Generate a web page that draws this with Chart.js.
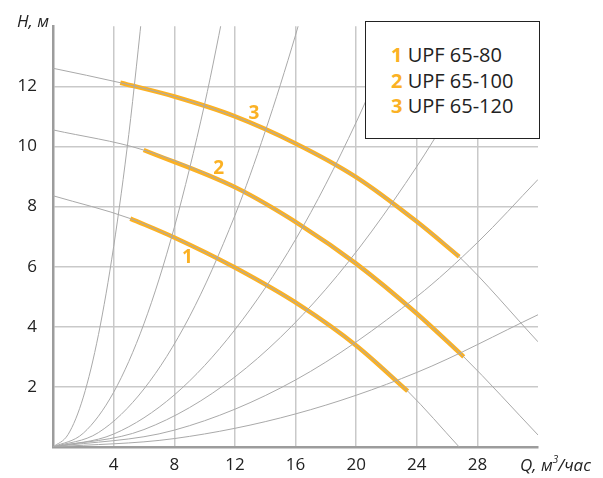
<!DOCTYPE html>
<html>
<head>
<meta charset="utf-8">
<script src="https://cdn.jsdelivr.net/npm/chart.js@4/dist/chart.umd.min.js"></script>
<style>
  body { margin: 0; background: #fff; }
  #wrap { position: relative; width: 603px; height: 478px; }
  .ttl {
    position: absolute;
    font-family: "Open Sans", sans-serif;
    font-style: italic;
    font-size: 17px;
    color: #222;
    white-space: nowrap;
  }
  .ttl sup { font-size: 10px; position: relative; top: -1px; }
  #legend {
    position: absolute;
    left: 365px; top: 21px;
    width: 173px; height: 116px;
    border: 1.5px solid #222;
    background: #fff;
    box-sizing: content-box;
    font-family: "Open Sans", sans-serif;
    font-size: 20px;
    color: #222;
    padding: 0;
  }
  #legend .row { position: absolute; left: 25px; line-height: 26px; white-space: nowrap; }
  #legend .num { color: #fbb124; font-weight: 700; }
</style>
</head>
<body>
<div id="wrap">
  <canvas id="chart" width="603" height="478"></canvas>
  <div class="ttl" style="left:17px; top:9px;">H, м</div>
  <div class="ttl" style="left:520px; top:453px;">Q, м<sup>3</sup>/час</div>
  <div id="legend"></div>
</div>
<script>
const ORANGE = "#fbb124";
const CURVE_GRAY = "#a9a9a9";

// pump curves: Q (m3/h) and H (m), orange part between orangeFrom..orangeTo indexes
const pump1Q = [0, 5.1, 8, 12, 16.4, 20, 23.4, 26.8];
const pump1H = [8.36, 7.6, 6.97, 5.97, 4.68, 3.38, 1.86, 0];
const pump2Q = [0, 5.98, 12.05, 16.4, 20, 24, 27.1, 32];
const pump2H = [10.55, 9.88, 8.63, 7.36, 6.1, 4.44, 3.0, 0.4];
const pump3Q = [0, 4.44, 8, 12, 16, 20, 24, 26.8, 32];
const pump3H = [12.6, 12.12, 11.66, 11.0, 10.1, 8.98, 7.5, 6.33, 3.5];
const pumpOrange = [[1, 6], [1, 6], [1, 7]];

// system curves through the origin
const sysAQ = [0, 1, 2, 3, 4, 5, 6];
const sysAH = [0, 0.42, 1.66, 3.74, 6.66, 10.4, 15];
const sysBQ = [0, 2, 4, 6, 8, 10, 11.5];
const sysBH = [0, 0.46, 1.82, 4.1, 7.3, 11.4, 15.1];
const sysCQ = [0, 3, 6, 9, 12, 14, 16, 17];
const sysCH = [0, 0.48, 1.93, 4.33, 7.7, 10.5, 13.7, 15.5];
const sysDQ = [0, 4, 8, 12, 16, 20, 23];
const sysDH = [0, 0.43, 1.73, 3.9, 6.9, 10.8, 14.3];
const sysEQ = [0, 6, 12, 18, 24, 28, 30];
const sysEH = [0, 0.58, 2.33, 5.25, 9.33, 12.7, 14.6];
const sysFQ = [0, 8, 16, 24, 28, 32];
const sysFH = [0, 0.56, 2.23, 5.0, 6.8, 8.9];
const sysGQ = [0, 8, 16, 24, 32];
const sysGH = [0, 0.28, 1.1, 2.48, 4.4];

const legendNames = ["UPF 65-80", "UPF 65-100", "UPF 65-120"];
const curveLabelQ = [8.87, 10.93, 13.25];
const curveLabelH = [6.3, 9.25, 11.08];

const xTicks = [4, 8, 12, 16, 20, 24, 28];
const yTicks = [2, 4, 6, 8, 10, 12];

function pts(qs, hs) {
  return qs.map((q, i) => ({ x: q, y: hs[i] }));
}

function grayLine(qs, hs) {
  return {
    data: pts(qs, hs),
    borderColor: CURVE_GRAY,
    borderWidth: 1,
    pointRadius: 0,
    showLine: true,
    fill: false,
    cubicInterpolationMode: "monotone",
  };
}

const pumpQ = [pump1Q, pump2Q, pump3Q];
const pumpH = [pump1H, pump2H, pump3H];

const datasets = [
  grayLine(sysAQ, sysAH),
  grayLine(sysBQ, sysBH),
  grayLine(sysCQ, sysCH),
  grayLine(sysDQ, sysDH),
  grayLine(sysEQ, sysEH),
  grayLine(sysFQ, sysFH),
  grayLine(sysGQ, sysGH),
];
pumpQ.forEach((qs, i) => datasets.push(grayLine(qs, pumpH[i])));
pumpQ.forEach((qs, i) => {
  const [a, b] = pumpOrange[i];
  datasets.push({
    data: pts(qs.slice(a, b + 1), pumpH[i].slice(a, b + 1)),
    borderColor: ORANGE,
    borderWidth: 4.5,
    pointRadius: 0,
    showLine: true,
    fill: false,
    cubicInterpolationMode: "monotone",
  });
});

const curveLabels = {
  id: "curveLabels",
  afterDatasetsDraw(chart) {
    const { ctx, scales } = chart;
    ctx.save();
    ctx.fillStyle = ORANGE;
    ctx.font = "bold 19px 'Open Sans', sans-serif";
    ctx.textAlign = "center";
    ctx.textBaseline = "middle";
    curveLabelQ.forEach((q, i) => {
      ctx.fillText(String(i + 1), scales.x.getPixelForValue(q), scales.y.getPixelForValue(curveLabelH[i]));
    });
    ctx.restore();
  },
};

const tickFont = { family: "'Open Sans', sans-serif", size: 17 };

new Chart(document.getElementById("chart"), {
  type: "scatter",
  data: { datasets },
  options: {
    responsive: false,
    animation: false,
    layout: { padding: { left: 0, top: 25, right: 65, bottom: 0 } },
    plugins: { legend: { display: false }, tooltip: { enabled: false } },
    scales: {
      x: {
        type: "linear",
        min: 0,
        max: 32,
        afterFit: (s) => { s.height = 31; },
        afterBuildTicks: (s) => { s.ticks = [0, ...xTicks, 32].map((v) => ({ value: v })); },
        grid: {
          drawTicks: false,
          lineWidth: 1.5,
          color: (c) => (xTicks.includes(c.tick.value) ? "#c9c9c9" : "rgba(0,0,0,0)"),
        },
        border: { color: "#9c9c9c", width: 2.5 },
        ticks: {
          padding: 8,
          color: "#222",
          font: tickFont,
          maxRotation: 0,
          autoSkip: false,
          callback: (v) => (xTicks.includes(v) ? String(v) : ""),
        },
      },
      y: {
        type: "linear",
        min: 0,
        max: 14,
        afterFit: (s) => { s.width = 53; },
        afterBuildTicks: (s) => { s.ticks = [0, ...yTicks, 14].map((v) => ({ value: v })); },
        grid: {
          drawTicks: false,
          lineWidth: 1.5,
          color: (c) => (yTicks.includes(c.tick.value) ? "#c9c9c9" : "rgba(0,0,0,0)"),
        },
        border: { color: "#9c9c9c", width: 2.5 },
        ticks: {
          padding: 16,
          color: "#222",
          font: tickFont,
          autoSkip: false,
          callback: (v) => (yTicks.includes(v) ? String(v) : ""),
        },
      },
    },
  },
  plugins: [curveLabels],
});

const legendEl = document.getElementById("legend");
legendNames.forEach((name, i) => {
  const row = document.createElement("div");
  row.className = "row";
  row.style.top = (20 + i * 25.7) + "px";
  row.innerHTML = '<span class="num">' + (i + 1) + "</span> " + name;
  legendEl.appendChild(row);
});
</script>
</body>
</html>
